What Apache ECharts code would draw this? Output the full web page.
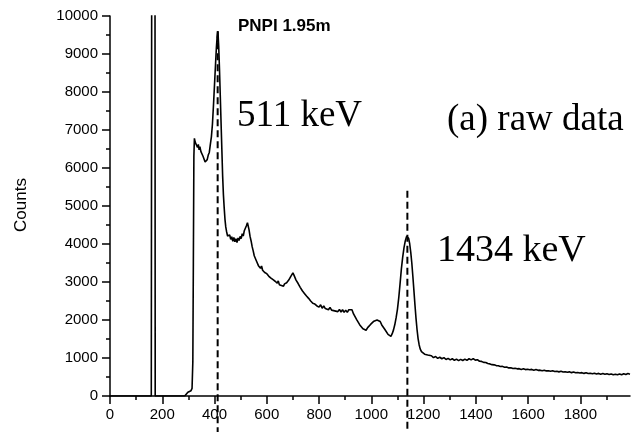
<!DOCTYPE html>
<html>
<head>
<meta charset="utf-8">
<script src="https://cdn.jsdelivr.net/npm/echarts@6/dist/echarts.min.js"></script>
<style>
  html, body { margin: 0; padding: 0; background: #fff; }
  #chart { width: 634px; height: 432px; }
</style>
</head>
<body>
<div id="chart"></div>
<script>
// Gamma spectrum, PNPI detector at 1.95 m (raw counts per channel)
const channel = [
  0, 158, 159, 160, 172, 173, 174, 286, 292, 298, 304, 310, 314, 317, 319, 321, 323,
  326, 329, 332, 335, 338, 341, 344, 348, 352, 356, 360, 364, 368, 372, 376, 380, 384, 388, 392, 396,
  400, 404, 407, 410, 413, 416, 419, 422, 425, 428, 431, 434, 437, 440, 443, 446, 450, 454, 458, 462,
  466, 470, 474, 478, 482, 486, 490, 494, 498, 502, 506, 510, 514, 518, 522, 526, 529, 532, 536, 540,
  544, 548, 552, 556, 560, 564, 568, 572, 576, 580, 584, 588, 592, 596, 600, 604, 608, 612, 616, 620,
  624, 628, 632, 636, 640, 644, 648, 652, 656, 660, 664, 668, 672, 676, 680, 684, 688, 692, 696, 700,
  704, 708, 712, 716, 720, 724, 728, 732, 736, 740, 744, 748, 752, 756, 760, 764, 768, 772, 776, 780,
  784, 788, 792, 796, 800, 806, 812, 818, 824, 830, 836, 842, 848, 854, 860, 866, 872, 878, 884, 890,
  896, 902, 908, 914, 920, 926, 932, 938, 944, 950, 956, 962, 968, 974, 980, 986, 992, 998, 1004, 1010,
  1016, 1022, 1028, 1034, 1040, 1046, 1052, 1058, 1064, 1070, 1075, 1080, 1085, 1090, 1095, 1100, 1105,
  1110, 1115, 1120, 1125, 1130, 1135, 1139, 1143, 1147, 1151, 1155, 1159, 1163, 1167, 1171, 1175, 1179,
  1183, 1187, 1192, 1198, 1204, 1210, 1216, 1222, 1230, 1238, 1246, 1254, 1262, 1270, 1278, 1286, 1294,
  1302, 1310, 1318, 1326, 1334, 1342, 1350, 1358, 1366, 1374, 1382, 1390, 1398, 1406, 1414, 1422, 1430,
  1438, 1446, 1454, 1462, 1470, 1478, 1486, 1494, 1502, 1510, 1518, 1526, 1534, 1542, 1550, 1558, 1566,
  1574, 1582, 1590, 1598, 1606, 1614, 1622, 1630, 1638, 1646, 1654, 1662, 1670, 1678, 1686, 1694, 1702,
  1710, 1718, 1726, 1734, 1742, 1750, 1758, 1766, 1774, 1782, 1790, 1798, 1806, 1814, 1822, 1830, 1838,
  1846, 1854, 1862, 1870, 1878, 1886, 1894, 1902, 1910, 1918, 1926, 1934, 1942, 1950, 1958, 1966, 1974,
  1982, 1990
];
const counts = [
  0, 0, 0, 14000, 14000, 0, 0, 0, 50, 100, 120, 140, 200, 900, 3500, 6300, 6780,
  6680, 6660, 6700, 6540, 6620, 6480, 6560, 6430, 6440, 6310, 6280, 6160, 6150, 6220, 6340, 6410, 6620, 6820, 7150, 7650,
  8200, 8750, 9150, 9450, 9600, 9200, 8600, 7900, 7200, 6500, 5800, 5300, 4950, 4650, 4450, 4330, 4210, 4200, 4240, 4120,
  4190, 4070, 4170, 4060, 4140, 4040, 4160, 4090, 4200, 4140, 4270, 4210, 4350, 4360, 4480, 4560, 4510, 4380, 4200, 4080,
  3930, 3820, 3690, 3660, 3560, 3530, 3430, 3450, 3360, 3420, 3310, 3330, 3250, 3280, 3220, 3230, 3150, 3200, 3100, 3140,
  3060, 3110, 3020, 3050, 2970, 3030, 2930, 2960, 2910, 2940, 2890, 2950, 2920, 2980, 2970, 3050, 3060, 3150, 3150, 3240,
  3180, 3150, 3050, 3060, 2960, 2960, 2860, 2880, 2770, 2790, 2700, 2720, 2630, 2650, 2570, 2590, 2500, 2530, 2440, 2470,
  2420, 2440, 2370, 2420, 2340, 2400, 2310, 2370, 2300, 2350, 2270, 2330, 2260, 2310, 2240, 2290, 2220, 2280, 2210, 2270,
  2200, 2260, 2200, 2270, 2240, 2270, 2160, 2120, 2010, 1980, 1870, 1860, 1770, 1780, 1730, 1800, 1810, 1890, 1890, 1970,
  1940, 2000, 1950, 1960, 1870, 1860, 1750, 1720, 1620, 1610, 1570, 1640, 1740, 1880, 2060, 2280, 2580,
  2950, 3340, 3650, 3900, 4080, 4200, 4230, 4150, 4000, 3780, 3500, 3150, 2780, 2400, 2050, 1750, 1510,
  1350, 1240, 1170, 1120, 1100, 1060, 1080, 1030, 1060, 1010, 1040, 990, 1020, 980, 1010, 960, 990,
  950, 980, 940, 970, 930, 965, 935, 970, 940, 980, 950, 985, 945, 955, 915, 910, 885,
  880, 855, 845, 825, 820, 800, 795, 775, 780, 755, 760, 740, 745, 725, 730, 715, 720,
  700, 715, 695, 705, 690, 700, 680, 695, 675, 680, 665, 680, 660, 665, 650, 665, 645,
  650, 635, 650, 630, 640, 625, 635, 615, 630, 610, 620, 605, 615, 595, 610, 590, 600,
  585, 600, 580, 595, 575, 590, 570, 585, 565, 580, 560, 575, 560, 580, 560, 585, 565,
  590, 575
];

// Reference energies: 511 keV and 1434 keV line positions
const markerChannel = [412, 1138];
const markerTop = [9600, 5400];
const markerBottom = [-950, -950];
const markerLabel = ['511 keV', '1434 keV'];

const xMajorTicks = [0, 200, 400, 600, 800, 1000, 1200, 1400, 1600, 1800];
const xMinorTicks = [100, 300, 500, 700, 900, 1100, 1300, 1500, 1700, 1900];

const chartTitle = 'PNPI 1.95m';
const panelLabel = '(a) raw data';
const yName = 'Counts';

const spectrum = channel.map((c, i) => [c, counts[i]]);

const sans = '"Liberation Sans", Arial, sans-serif';
const serif = '"Liberation Serif", "Times New Roman", serif';

const markerSeries = markerChannel.map((c, i) => ({
  type: 'line',
  xAxisIndex: 0,
  data: [[c, markerTop[i]], [c, markerBottom[i]]],
  symbol: 'none',
  clip: false,
  silent: true,
  lineStyle: { color: '#000', width: 2, type: [7, 4] },
  z: 3
}));

const plain = (v) => String(v);

const chart = echarts.init(document.getElementById('chart'), null, { renderer: 'canvas' });
chart.setOption({
  animation: false,
  backgroundColor: '#fff',
  grid: { left: 110, top: 16, width: 520, height: 380, containLabel: false },
  xAxis: [
    {
      type: 'value', min: 0, max: 1990, position: 'bottom',
      axisLine: { show: true, lineStyle: { color: '#000', width: 1.5 } },
      axisTick: { show: true, inside: false, length: 8, lineStyle: { color: '#000', width: 1.5 }, customValues: xMajorTicks },
      axisLabel: { show: true, margin: 11, color: '#000', fontSize: 15, fontFamily: sans, formatter: plain, customValues: xMajorTicks },
      splitLine: { show: false }
    },
    {
      type: 'value', min: 0, max: 1990, position: 'bottom',
      axisLine: { show: false },
      axisTick: { show: true, inside: false, length: 4, lineStyle: { color: '#000', width: 1.5 }, customValues: xMinorTicks },
      axisLabel: { show: false },
      splitLine: { show: false }
    }
  ],
  yAxis: {
    type: 'value', min: 0, max: 10000, interval: 1000,
    axisLine: { show: true, lineStyle: { color: '#000', width: 1.5 } },
    axisTick: { show: true, inside: false, length: 8, lineStyle: { color: '#000', width: 1.5 } },
    minorTick: { show: true, splitNumber: 2, length: 4, lineStyle: { color: '#000', width: 1.5 } },
    axisLabel: { margin: 12, color: '#000', fontSize: 15, fontFamily: sans, formatter: plain },
    splitLine: { show: false }
  },
  series: [
    {
      type: 'line',
      xAxisIndex: 0,
      data: spectrum,
      symbol: 'none',
      silent: true,
      lineStyle: { color: '#000', width: 1.6 },
      z: 2
    },
    ...markerSeries
  ],
  graphic: [
    { type: 'text', left: 238, top: 18, style: { text: chartTitle, font: 'bold 17px ' + sans, fill: '#000' } },
    { type: 'text', x: 237, y: 116, style: { text: markerLabel[0], font: '37px ' + serif, fill: '#000', verticalAlign: 'middle' } },
    { type: 'text', x: 447, y: 120, style: { text: panelLabel, font: '37px ' + serif, fill: '#000', verticalAlign: 'middle' } },
    { type: 'text', x: 437, y: 251, style: { text: markerLabel[1], font: '38px ' + serif, fill: '#000', verticalAlign: 'middle' } },
    { type: 'text', x: 21, y: 205, rotation: Math.PI / 2, style: { text: yName, font: '17px ' + sans, fill: '#000', align: 'center', verticalAlign: 'middle' } }
  ]
});
</script>
</body>
</html>
